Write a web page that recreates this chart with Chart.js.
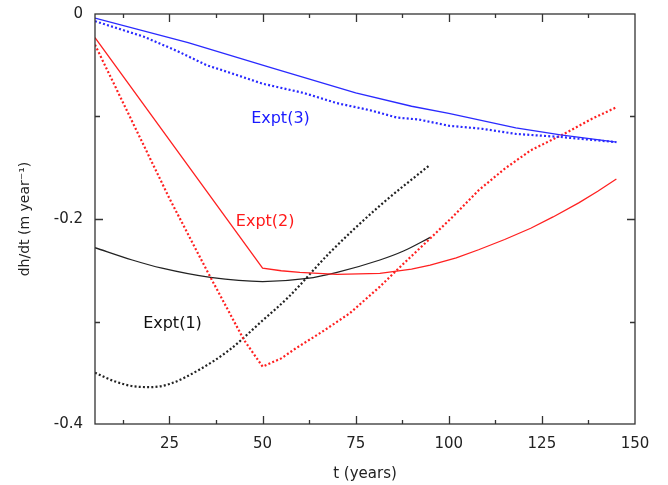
<!DOCTYPE html>
<html>
<head>
<meta charset="utf-8">
<script src="https://cdn.jsdelivr.net/npm/chart.js@4/dist/chart.umd.min.js"></script>
<style>
  html, body { margin: 0; padding: 0; background: #fff; }
  canvas { display: block; }
</style>
</head>
<body>
<canvas id="chart" width="668" height="485"></canvas>
<script>
// Expt(1), black
const expt1SolidT  = [5, 15, 23, 36, 50, 62, 70, 81.5, 88, 95];
const expt1SolidDh = [-0.228, -0.240, -0.248, -0.257, -0.261, -0.258, -0.252, -0.240, -0.231, -0.218];
const expt1DotT    = [5, 10, 15, 20, 25, 33, 41, 50, 57, 68, 81.5, 95];
const expt1DotDh   = [-0.350, -0.358, -0.363, -0.364, -0.361, -0.347, -0.328, -0.299, -0.276, -0.233, -0.187, -0.147];

// Expt(2), red
const expt2SolidT  = [5, 50, 55, 60, 70, 81.5, 90, 95, 102, 108, 115, 122, 128, 135, 140, 145];
const expt2SolidDh = [-0.023, -0.248, -0.2505, -0.252, -0.254, -0.253, -0.249, -0.245, -0.238, -0.230, -0.220, -0.209, -0.198, -0.184, -0.173, -0.161];
const expt2DotT    = [5, 15, 25, 35, 45, 50, 55, 59, 66, 73.4, 81.5, 88, 95, 101, 108, 115, 122, 127, 132, 138, 145];
const expt2DotDh   = [-0.030, -0.105, -0.180, -0.250, -0.318, -0.344, -0.336, -0.326, -0.310, -0.292, -0.266, -0.243, -0.219, -0.198, -0.172, -0.151, -0.133, -0.124, -0.115, -0.103, -0.091];

// Expt(3), blue
const expt3SolidT  = [5, 30, 52, 75, 90, 100, 118, 130, 145];
const expt3SolidDh = [-0.004, -0.028, -0.052, -0.077, -0.090, -0.097, -0.111, -0.118, -0.125];
const expt3DotT    = [5, 18, 27, 35, 41, 50, 61, 70, 79, 86, 92, 100, 109, 118, 130, 145];
const expt3DotDh   = [-0.007, -0.022, -0.036, -0.050, -0.057, -0.068, -0.077, -0.087, -0.094, -0.101, -0.103, -0.109, -0.112, -0.117, -0.120, -0.125];

const xTickLabels = [25, 50, 75, 100, 125, 150];
const yTickLabels = [0, -0.2, -0.4];

// label text, position in data units, colour
const seriesLabels = [
  { text: 'Expt(1)', t: 25.8, dh: -0.302, color: '#111' },
  { text: 'Expt(2)', t: 50.7, dh: -0.2025, color: '#ff1a1a' },
  { text: 'Expt(3)', t: 54.8, dh: -0.1025, color: '#1a1aff' }
];

const BLACK = '#222', RED = '#ff2020', BLUE = '#2a2aff';
const FONT = 'DejaVu Sans';

function pts(ts, ys) { return ts.map((t, i) => ({ x: t, y: ys[i] })); }

function solid(ts, ys, color, smooth) {
  return {
    data: pts(ts, ys), borderColor: color, borderWidth: 1.3,
    pointRadius: 0, fill: false,
    cubicInterpolationMode: smooth ? 'monotone' : 'default', tension: 0
  };
}
function dotted(ts, ys, color, smooth) {
  return {
    data: pts(ts, ys), borderColor: color, borderWidth: 2.2,
    borderDash: [2, 2.2], borderCapStyle: 'butt',
    pointRadius: 0, fill: false,
    cubicInterpolationMode: smooth ? 'monotone' : 'default', tension: 0
  };
}

// frame with inward ticks, like gnuplot
const framePlugin = {
  id: 'frame',
  afterDatasetsDraw(chart) {
    const { ctx, chartArea: a, scales: { x, y } } = chart;
    ctx.save();
    ctx.strokeStyle = '#333';
    ctx.lineWidth = 1.3;
    ctx.strokeRect(a.left, a.top, a.right - a.left, a.bottom - a.top);
    ctx.beginPath();
    for (let t = 12.5; t < 150; t += 12.5) {
      const px = Math.round(x.getPixelForValue(t)) + 0.5;
      const len = (t % 25 === 0) ? 8 : 4;
      ctx.moveTo(px, a.bottom); ctx.lineTo(px, a.bottom - len);
      ctx.moveTo(px, a.top); ctx.lineTo(px, a.top + len);
    }
    for (let v = -0.1; v > -0.4; v -= 0.1) {
      const py = Math.round(y.getPixelForValue(v)) + 0.5;
      const len = (Math.abs(Math.round(v * 10)) % 2 === 0) ? 8 : 5;
      ctx.moveTo(a.left, py); ctx.lineTo(a.left + len, py);
      ctx.moveTo(a.right, py); ctx.lineTo(a.right - len, py);
    }
    ctx.stroke();

    ctx.font = '16px "' + FONT + '"';
    ctx.textAlign = 'center';
    ctx.textBaseline = 'middle';
    seriesLabels.forEach(l => {
      ctx.fillStyle = l.color;
      ctx.fillText(l.text, x.getPixelForValue(l.t), y.getPixelForValue(l.dh));
    });
    ctx.restore();
  }
};

new Chart(document.getElementById('chart'), {
  type: 'line',
  data: {
    datasets: [
      solid(expt3SolidT, expt3SolidDh, BLUE, false),
      dotted(expt3DotT, expt3DotDh, BLUE, false),
      solid(expt2SolidT, expt2SolidDh, RED, false),
      dotted(expt2DotT, expt2DotDh, RED, false),
      solid(expt1SolidT, expt1SolidDh, BLACK, true),
      dotted(expt1DotT, expt1DotDh, BLACK, true)
    ]
  },
  options: {
    responsive: false,
    animation: false,
    devicePixelRatio: 1,
    layout: { padding: { top: 14, right: 33, left: 0, bottom: 0 } },
    plugins: { legend: { display: false }, tooltip: { enabled: false } },
    scales: {
      x: {
        type: 'linear', min: 5, max: 150,
        grid: { display: false, drawTicks: false },
        border: { display: false },
        afterBuildTicks: s => { s.ticks = xTickLabels.map(v => ({ value: v })); },
        afterFit: s => { s.height = 61; s.paddingLeft = 0; s.paddingRight = 0; },
        ticks: { padding: 11, color: '#222', font: { family: FONT, size: 15 }, maxRotation: 0 },
        title: { display: true, text: 't (years)', color: '#222',
                 font: { family: FONT, size: 15 }, padding: { top: 0, bottom: 2 } }
      },
      y: {
        type: 'linear', min: -0.4, max: 0,
        grid: { display: false, drawTicks: false },
        border: { display: false },
        afterBuildTicks: s => { s.ticks = yTickLabels.map(v => ({ value: v })); },
        afterFit: s => { s.width = 95; s.paddingTop = 0; s.paddingBottom = 0; },
        ticks: { padding: 12, color: '#222', font: { family: FONT, size: 15 },
                 callback: v => (v === 0 ? '0' : String(v)) },
        title: { display: true, text: 'dh/dt (m year⁻¹)', color: '#222',
                 font: { family: FONT, size: 14 }, padding: { top: 17, bottom: 0 } }
      }
    }
  },
  plugins: [framePlugin]
});
</script>
</body>
</html>
